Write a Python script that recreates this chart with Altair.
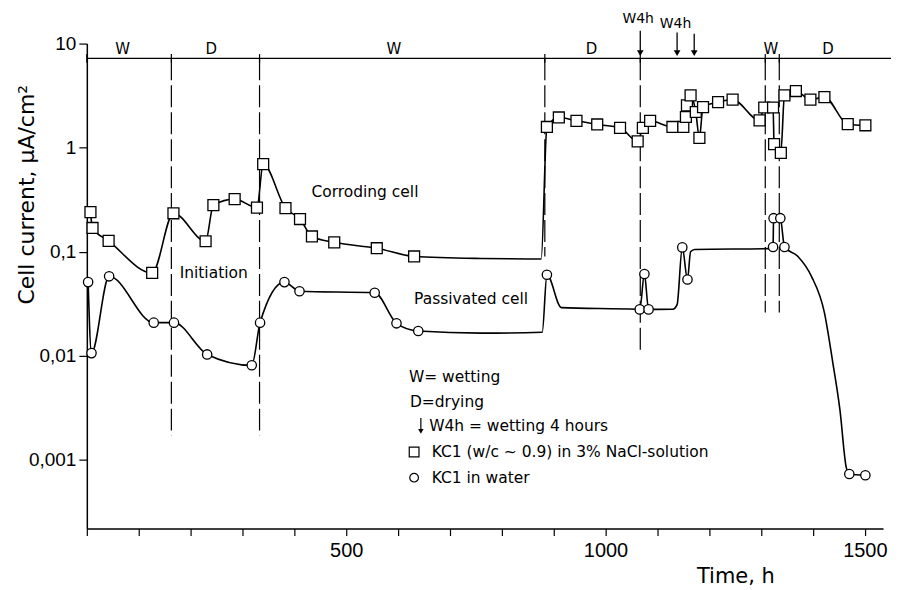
import altair as alt
import pandas as pd

FONT = "DejaVu Sans"
NUMFONT = "Liberation Sans"

# ---- Corroding cell: KC1 (w/c ~ 0.9) in 3% NaCl-solution (squares) ----
cor_h = [7, 11, 42, 126, 167, 229, 244, 285, 328, 340, 383, 411, 434, 477, 559, 631,
         760, 876, 887, 910, 944, 984, 1028, 1062, 1072, 1086, 1129, 1150, 1155, 1157,
         1164, 1174, 1181, 1188, 1217, 1245, 1297, 1306, 1323, 1325, 1338, 1345, 1367,
         1395, 1422, 1467, 1501]
cor_v = [0.24, 0.169, 0.127, 0.0625, 0.234, 0.126, 0.28, 0.32, 0.265, 0.695, 0.262, 0.206,
         0.14, 0.123, 0.108, 0.090, 0.086, 0.085, 1.58, 1.95, 1.81, 1.67, 1.55, 1.15, 1.55,
         1.81, 1.58, 1.58, 1.97, 2.55, 3.18, 2.2, 1.24, 2.45, 2.74, 2.89, 1.83, 2.43, 2.43,
         1.08, 0.89, 3.18, 3.5, 2.89, 3.06, 1.68, 1.64]
cor_m = [1] * 16 + [0, 0] + [1] * 29

# ---- Passivated cell: KC1 in water (circles) ----
pas_h = [2.5, 9, 43, 129, 168, 232, 318, 334, 381, 410, 555, 597, 639, 760, 878, 887,
         915, 1060, 1066, 1075, 1083, 1130, 1138, 1148, 1158, 1164, 1172, 1318, 1323,
         1324, 1337, 1345, 1371, 1397, 1422, 1438, 1452, 1464, 1470, 1501]
pas_v = [0.051, 0.0106, 0.058, 0.0208, 0.0208, 0.0103, 0.0081, 0.0208, 0.051, 0.0417,
         0.0403, 0.0205, 0.0173, 0.0165, 0.0168, 0.06, 0.029, 0.028, 0.0279, 0.061,
         0.0279, 0.028, 0.031, 0.11, 0.054, 0.1, 0.105, 0.107, 0.111, 0.21, 0.21, 0.111,
         0.09, 0.058, 0.026, 0.0087, 0.003, 0.00085, 0.00073, 0.00071]
pas_m = ([1] * 13 + [0, 0, 1, 0, 0, 1, 1, 1, 0, 0, 1, 1, 0, 0, 0, 1, 1, 1, 1]
         + [0, 0, 0, 0, 0, 0, 1, 1])

# ---- Wetting / drying schedule ----
period_labels = ["W", "D", "W", "D", "W", "D"]
period_mid_h = [69, 240, 592, 973, 1319, 1429]
bound_h = [0, 163, 333, 883, 1067, 1308, 1335]
dash_h = [163, 333, 883, 1067, 1308, 1335]
dash_end_v = [0.0017, 0.0017, 0.09, 0.011, 0.026, 0.026]
arrow_h = [1067, 1138, 1171]
arrow_top_v = [13.3, 12.8, 12.4]
w4h_labels = ["W4h", "W4h"]
w4h_h = [1063, 1135]
w4h_v = [17.3, 15.5]

# ---- Annotations ----
note_texts = ["Corroding cell", "Initiation", "Passivated cell"]
note_h = [433, 179, 631]
note_v = [0.375, 0.063, 0.0348]

key_texts = ["W= wetting", "D=drying", "W4h = wetting 4 hours",
             "KC1 (w/c ~ 0.9) in 3% NaCl-solution", "KC1 in water"]
key_h = [621, 623, 660, 665, 665]
key_v = [0.00622, 0.00359, 0.00211, 0.00119, 0.000673]

LINE_V = 7.2
X_MAX = 1535
X_LINE_END = 1560

xs = alt.Scale(domain=[0, X_MAX], nice=False, zero=False)
ys = alt.Scale(type="log", domain=[10 ** -3.66, 10], nice=False)

xaxis = alt.Axis(values=list(range(0, 1501, 100)),
                 labelExpr="datum.value % 500 == 0 && datum.value > 0 ? datum.value : ''",
                 tickSize=7, labelFontSize=20, labelFont=NUMFONT, labelPadding=5,
                 grid=False,
                 title="Time, h", titleFontSize=21, titleX=650, titleY=48,
                 titleAlign="center", titleBaseline="middle", titleFontWeight="normal")
yaxis = alt.Axis(values=[0.001, 0.01, 0.1, 1, 10],
                 labelExpr="datum.value >= 1 ? format(datum.value, 'd') : replace(format(datum.value, '~g'), '.', ',')",
                 tickSize=8, labelFontSize=19, labelFont=NUMFONT, labelPadding=3,
                 grid=False,
                 title="Cell current, μA/cm²", titleFontSize=22, titleX=-60, titleY=151,
                 titleAngle=270, titleAlign="center", titleBaseline="middle",
                 titleFontWeight="normal")

X = alt.X("h:Q", scale=xs, axis=xaxis)
Y = alt.Y("v:Q", scale=ys, axis=yaxis)

cor = pd.DataFrame({"h": cor_h, "v": cor_v, "m": cor_m})
pas = pd.DataFrame({"h": pas_h, "v": pas_v, "m": pas_m})

cor_line = alt.Chart(cor).mark_line(interpolate="monotone", color="black",
                                    strokeWidth=1.6).encode(X, Y)
cor_pts = alt.Chart(cor[cor.m == 1]).mark_point(shape="square", size=120, filled=True,
                                                fill="white", stroke="black",
                                                strokeWidth=1.3, opacity=1).encode(X, Y)
pas_line = alt.Chart(pas).mark_line(interpolate="monotone", color="black",
                                    strokeWidth=1.6).encode(X, Y)
pas_pts = alt.Chart(pas[pas.m == 1]).mark_point(shape="circle", size=88, filled=True,
                                                fill="white", stroke="black",
                                                strokeWidth=1.3, opacity=1).encode(X, Y)

# schedule line
sched = pd.DataFrame({"h": [0], "h2": [X_LINE_END], "v": [LINE_V]})
sched_rule = alt.Chart(sched).mark_rule(color="black", strokeWidth=1.3).encode(
    X, alt.X2("h2"), Y)
bt = pd.DataFrame({"h": bound_h, "v": [LINE_V * 1.1] * len(bound_h),
                   "v2": [LINE_V / 1.1] * len(bound_h)})
bound_ticks = alt.Chart(bt).mark_rule(color="black", strokeWidth=1.2).encode(
    X, Y, alt.Y2("v2"))
dd = pd.DataFrame({"h": dash_h, "v": [LINE_V] * len(dash_h), "v2": dash_end_v})
dash_rules = alt.Chart(dd).mark_rule(color="black", strokeWidth=1.2,
                                     strokeDash=[22, 5]).encode(X, Y, alt.Y2("v2"))
pl = pd.DataFrame({"h": period_mid_h, "v": [8.96] * 6, "t": period_labels})
period_text = alt.Chart(pl).mark_text(font=FONT, fontSize=15, color="black",
                                      baseline="middle").encode(X, Y, text="t:N")

ad = pd.DataFrame({"h": arrow_h, "v": arrow_top_v, "v2": [8.4] * 3})
arrow_shaft = alt.Chart(ad).mark_rule(color="black", strokeWidth=1.3).encode(
    X, Y, alt.Y2("v2"))
ah = pd.DataFrame({"h": arrow_h, "v": [8.1] * 3})
arrow_head = alt.Chart(ah).mark_point(shape="triangle-down", size=45, filled=True,
                                      color="black", opacity=1).encode(X, Y)
wl = pd.DataFrame({"h": w4h_h, "v": w4h_v, "t": w4h_labels})
w4h_text = alt.Chart(wl).mark_text(font=FONT, fontSize=14, color="black",
                                   baseline="middle").encode(X, Y, text="t:N")

nd = pd.DataFrame({"h": note_h, "v": note_v, "t": note_texts})
notes = alt.Chart(nd).mark_text(font=FONT, fontSize=15.5, color="black", align="left",
                                baseline="middle").encode(X, Y, text="t:N")
kd = pd.DataFrame({"h": key_h, "v": key_v, "t": key_texts})
keys = alt.Chart(kd).mark_text(font=FONT, fontSize=15.5, color="black", align="left",
                               baseline="middle").encode(X, Y, text="t:N")
# key symbols
ks = pd.DataFrame({"h": [631], "v": [key_v[3]]})
key_sq = alt.Chart(ks).mark_point(shape="square", size=95, filled=True, fill="white",
                                  stroke="black", strokeWidth=1.2, opacity=1).encode(X, Y)
kc = pd.DataFrame({"h": [631], "v": [key_v[4]]})
key_ci = alt.Chart(kc).mark_point(shape="circle", size=75, filled=True, fill="white",
                                  stroke="black", strokeWidth=1.2, opacity=1).encode(X, Y)
ka = pd.DataFrame({"h": [644], "v": [0.00252], "v2": [0.00195]})
key_arrow = alt.Chart(ka).mark_rule(color="black", strokeWidth=1.2).encode(
    X, Y, alt.Y2("v2"))
kah = pd.DataFrame({"h": [644], "v": [0.00188]})
key_head = alt.Chart(kah).mark_point(shape="triangle-down", size=30, filled=True,
                                     color="black", opacity=1).encode(X, Y)

chart = alt.layer(
    sched_rule, bound_ticks, dash_rules, period_text, arrow_shaft, arrow_head, w4h_text,
    cor_line, pas_line, cor_pts, pas_pts, notes, keys, key_sq, key_ci, key_arrow, key_head
).properties(
    width=798, height=486,
    autosize=alt.AutoSizeParams(type="none"),
    padding={"left": 79, "top": 35, "right": 8, "bottom": 60},
).configure_view(stroke=None).configure_axis(
    domainColor="black", domainWidth=1.5, tickColor="black", tickWidth=1.2,
    labelColor="black", titleColor="black", labelFont=FONT, titleFont=FONT,
)

chart.save("out.html", embed_options={"renderer": "svg", "actions": False})
